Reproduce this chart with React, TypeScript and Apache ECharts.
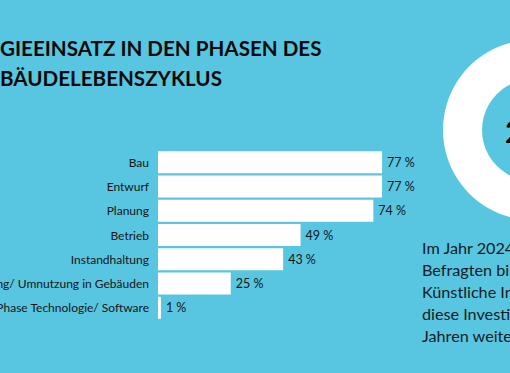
import React, { useEffect, useRef } from "react";
import * as echarts from "echarts";

const categories = [
  "Bau",
  "Entwurf",
  "Planung",
  "Betrieb",
  "Instandhaltung",
  "ng/ Umnutzung in Gebäuden",
  "Phase Technologie/ Software",
];
const values = [77, 77, 74, 49, 43, 25, 1];
const titleLines = ["GIEEINSATZ IN DEN PHASEN DES", "BÄUDELEBENSZYKLUS"];
const paragraphLines = [
  "Im Jahr 2024",
  "Befragten bis",
  "Künstliche In",
  "diese Investit",
  "Jahren weite",
];
const donutValue = [1];
const donutLabel = "2";

export default function App() {
  const ref = useRef<HTMLDivElement>(null);
  useEffect(() => {
    if (!ref.current) return;
    const chart = echarts.init(ref.current, undefined, { renderer: "svg" });
    const font = "Lato";
    const dark = "#141414";
    chart.setOption({
      animation: false,
      backgroundColor: "#59c6e1",
      textStyle: { fontFamily: font },
      grid: {
        left: 158,
        right: 61,
        top: 150,
        bottom: 53,
        containLabel: false,
        outerBoundsMode: "none",
      },
      xAxis: {
        type: "value",
        min: 0,
        max: 100,
        show: false,
      },
      yAxis: {
        type: "category",
        data: categories,
        inverse: true,
        axisLine: { show: false },
        axisTick: { show: false },
        axisLabel: {
          margin: 9,
          color: dark,
          fontFamily: font,
          fontSize: 12,
        },
      },
      series: [
        {
          type: "bar",
          data: values,
          barWidth: 22,
          itemStyle: { color: "#ffffff" },
          label: {
            show: true,
            position: "right",
            distance: 5,
            formatter: "{c} %",
            color: dark,
            fontFamily: font,
            fontSize: 12.5,
          },
        },
        {
          type: "pie",
          center: [533, 130],
          radius: [51, 90],
          silent: true,
          label: { show: false },
          labelLine: { show: false },
          itemStyle: { color: "#ffffff" },
          data: donutValue,
        },
      ],
      graphic: [
        ...titleLines.map((t, i) => ({
          type: "text",
          left: 0,
          top: 37 + i * 30,
          style: {
            text: t,
            fill: "#0a0a0a",
            font: `bold 20.6px ${font}`,
          },
        })),
        {
          type: "text",
          x: 505,
          y: 131,
          style: {
            text: donutLabel,
            fill: "#0a0a0a",
            font: `bold 30px ${font}`,
            textVerticalAlign: "middle",
          },
        },
        ...paragraphLines.map((t, i) => ({
          type: "text",
          x: 422,
          y: 247 + i * 22,
          style: {
            text: t,
            fill: "#121c22",
            font: `16.2px ${font}`,
            textVerticalAlign: "middle",
          },
        })),
      ],
    });
    return () => chart.dispose();
  }, []);
  return (
    <div
      ref={ref}
      style={{ position: "absolute", left: 0, top: 0, width: 510, height: 373 }}
    />
  );
}
